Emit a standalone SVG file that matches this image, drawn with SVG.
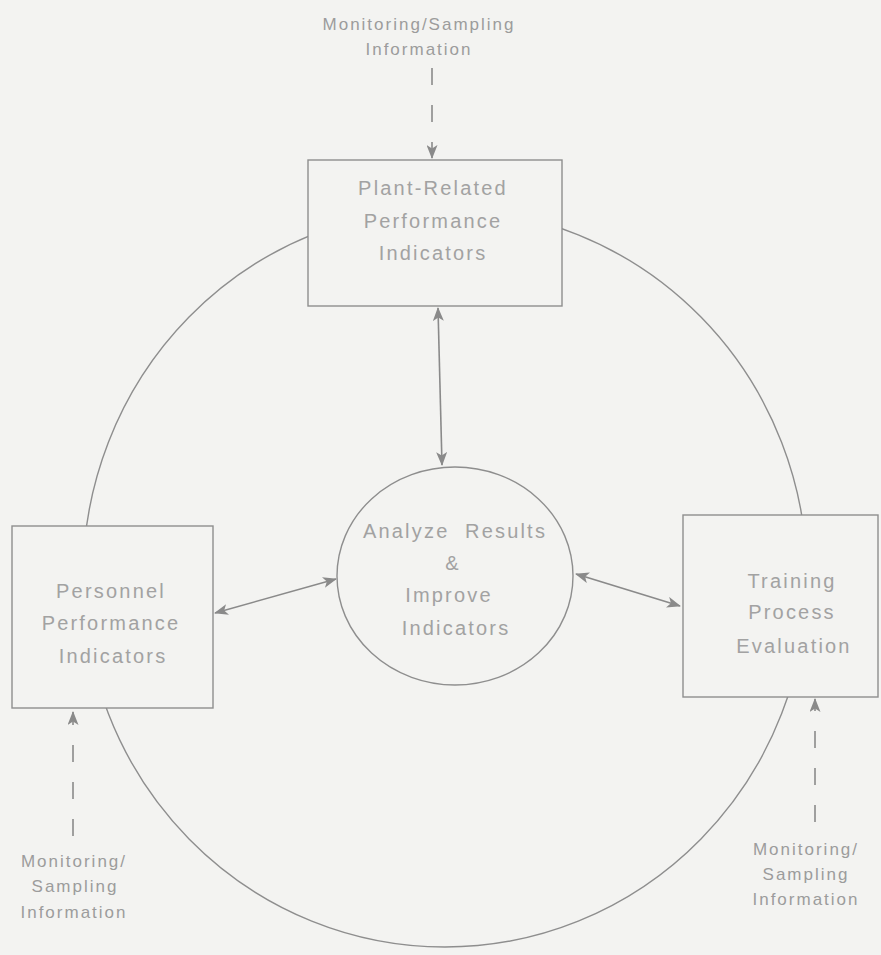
<svg xmlns="http://www.w3.org/2000/svg" width="881" height="955" viewBox="0 0 881 955">
<defs>
<style>
.bg{fill:#f3f3f1}
.ring{fill:none;stroke:#8e8e8e;stroke-width:1.4}
.box{fill:#f3f3f1;stroke:#8e8e8e;stroke-width:1.4}
.lbl{font-family:"Liberation Sans",Arial,sans-serif;font-size:20px;letter-spacing:2.2px;fill:#a2a2a2;text-anchor:middle}
.src{font-family:"Liberation Sans",Arial,sans-serif;font-size:17px;letter-spacing:2px;fill:#9c9c9c;text-anchor:middle}
.arr{fill:none;stroke:#8a8a8a;stroke-width:1.6;marker-start:url(#ah);marker-end:url(#ah)}
.dash{fill:none;stroke:#8a8a8a;stroke-width:1.6;stroke-dasharray:17 20;marker-end:url(#ah)}
</style>
<marker id="ah" viewBox="0 0 14 11" refX="13" refY="5.5" markerWidth="14" markerHeight="11" markerUnits="userSpaceOnUse" orient="auto-start-reverse">
<path d="M0,0 L14,5.5 L0,11 L3.5,5.5 Z" fill="#8a8a8a"/>
</marker>
</defs>
<rect class="bg" x="0" y="0" width="881" height="955"/>
<ellipse class="ring" cx="445" cy="578" rx="362" ry="369"/>
<g id="connectors">
<line class="arr" x1="438" y1="308" x2="442" y2="465"/>
<line class="arr" x1="215" y1="613" x2="336" y2="579"/>
<line class="arr" x1="576" y1="574" x2="680" y2="606"/>
<line class="dash" x1="432" y1="68" x2="432" y2="158"/>
<line class="dash" x1="73" y1="836" x2="73" y2="712"/>
<line class="dash" x1="815" y1="822" x2="815" y2="699"/>
</g>
<g id="plant">
<rect class="box" x="308" y="160" width="254" height="146"/>
<text class="lbl" x="433" y="195">Plant-Related</text>
<text class="lbl" x="433" y="228">Performance</text>
<text class="lbl" x="433" y="260">Indicators</text>
</g>
<g id="personnel">
<rect class="box" x="12" y="526" width="201" height="182"/>
<text class="lbl" x="111" y="598">Personnel</text>
<text class="lbl" x="111" y="630">Performance</text>
<text class="lbl" x="113" y="663">Indicators</text>
</g>
<g id="training">
<rect class="box" x="683" y="515" width="195" height="182"/>
<text class="lbl" x="792" y="588">Training</text>
<text class="lbl" x="792" y="619">Process</text>
<text class="lbl" x="794" y="653">Evaluation</text>
</g>
<g id="analyze">
<ellipse class="box" cx="455" cy="576" rx="118" ry="109"/>
<text class="lbl" x="455" y="538" xml:space="preserve">Analyze  Results</text>
<text class="lbl" x="453" y="570">&amp;</text>
<text class="lbl" x="449" y="602">Improve</text>
<text class="lbl" x="456" y="635">Indicators</text>
</g>
<g id="src-top">
<text class="src" x="419" y="30">Monitoring/Sampling</text>
<text class="src" x="419" y="55">Information</text>
</g>
<g id="src-left">
<text class="src" x="74" y="867">Monitoring/</text>
<text class="src" x="75" y="892">Sampling</text>
<text class="src" x="74" y="918">Information</text>
</g>
<g id="src-right">
<text class="src" x="806" y="855">Monitoring/</text>
<text class="src" x="806" y="880">Sampling</text>
<text class="src" x="806" y="905">Information</text>
</g>
</svg>
